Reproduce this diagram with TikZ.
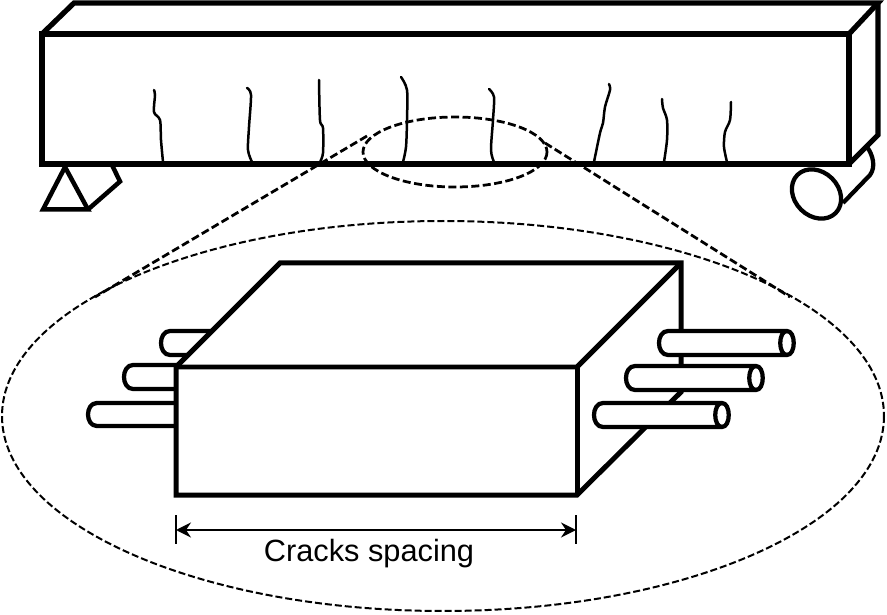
\documentclass[tikz,border=0pt]{standalone}
\usepackage{fontspec}
\setmainfont{Liberation Sans}
\usetikzlibrary{arrows.meta}

\tikzset{
	beamline/.style={line width=0.105cm, line join=miter},
	blockline/.style={line width=0.1cm, line join=miter},
	supportline/.style={line width=0.09cm, line join=miter},
	rodline/.style={line width=0.085cm, fill=white, line join=round},
	crackline/.style={line width=0.05cm, line cap=round},
	zoomline/.style={line width=0.055cm, dash pattern=on 0.16cm off 0.07cm},
	outerline/.style={line width=0.04cm, dash pattern=on 0.14cm off 0.06cm},
	spanline/.style={line width=0.042cm},
	spantip/.tip={Stealth[length=0.3cm,width=0.3cm,inset=0.1cm]}
}

\begin{document}
\begin{tikzpicture}[x=0.02cm, y=-0.02cm]
	\useasboundingbox (0,0) rectangle (887,615);

	% roller and support under the beam
	\begin{scope}
		\draw[rodline] (843,203) -- (870,175) .. controls (876,167) and (873,155) .. (867,147);
		\draw[rodline] (816.5,194) circle [x radius=27, y radius=22, rotate=-45];
		\draw[supportline] (65,167) -- (43,209.5) -- (88,209.5) -- cycle;
		\draw[supportline] (88,209.5) -- (120,181.5) -- (112,165);
	\end{scope}

	% beam
	\begin{scope}
		\draw[beamline, fill=white] (42,34) rectangle (849,164);
		\draw[beamline] (42,34) -- (74,3) -- (878,3) -- (849,34);
		\draw[beamline] (878,3) -- (878,135) -- (849,164);
	\end{scope}

	% cracks
	\begin{scope}
		\draw[crackline] plot[smooth] coordinates {(154,90) (155,95) (154,112) (160,120) (161,140) (163,162)};
		\draw[crackline] plot[smooth] coordinates {(247,88) (251,95) (249,127) (248,150) (252,162)};
		\draw[crackline] plot[smooth] coordinates {(319,80) (320,120) (323,128) (323,153) (320,162)};
		\draw[crackline] plot[smooth] coordinates {(401,77) (407,90) (407,120) (406,147) (403,162)};
		\draw[crackline] plot[smooth] coordinates {(489,89) (494,97) (493,120) (491,150) (494,162)};
		\draw[crackline] plot[smooth] coordinates {(609,84) (610,90) (605,107) (603,123) (600,133) (594,162)};
		\draw[crackline] plot[smooth] coordinates {(662,99) (663,108) (667,120) (667,140) (664,162)};
		\draw[crackline] plot[smooth] coordinates {(731,102) (730,120) (725,132) (724,147) (727,162)};
	\end{scope}

	% zoom outline
	\begin{scope}
		\draw[zoomline] (455,152) circle [x radius=92, y radius=35];
		\draw[outerline] (443,416) circle [x radius=441, y radius=195];
		\draw[zoomline] (367,136) -- (95,297);
		\draw[zoomline] (545,143) -- (790,297);
	\end{scope}

	% bars behind the block
	\begin{scope}
		\draw[rodline] (215,331) -- (170,331) .. controls (158,331) and (158,355) .. (170,355) -- (215,355);
		\draw[rodline] (180,365) -- (133,365) .. controls (121,365) and (121,389) .. (133,389) -- (180,389);
		\draw[rodline] (180,403) -- (97,403) .. controls (85,403) and (85,426) .. (97,426) -- (180,426);
	\end{scope}

	% block
	\begin{scope}
		\draw[blockline, fill=white] (176,367) -- (280,263) -- (681,263) -- (681,392) -- (577,495) -- (176,495) -- cycle;
		\draw[blockline] (176,367) -- (577,367) -- (681,263);
		\draw[blockline] (577,367) -- (577,495);
	\end{scope}

	% bars in front of the block
	\begin{scope}
		\draw[rodline] (668,331) -- (787,331) .. controls (796,331) and (796,355) .. (787,355) -- (668,355) .. controls (656,355) and (656,331) .. (668,331) -- cycle;
		\draw[rodline] (787,331) .. controls (778,331) and (778,355) .. (787,355);
		\draw[rodline] (635,366) -- (756,366) .. controls (765,366) and (765,390) .. (756,390) -- (635,390) .. controls (623,390) and (623,366) .. (635,366) -- cycle;
		\draw[rodline] (756,366) .. controls (747,366) and (747,390) .. (756,390);
		\draw[rodline] (603,403) -- (722,403) .. controls (731,403) and (731,427) .. (722,427) -- (603,427) .. controls (591,427) and (591,403) .. (603,403) -- cycle;
		\draw[rodline] (722,403) .. controls (713,403) and (713,427) .. (722,427);
	\end{scope}

	% spacing
	\coordinate (spanL) at (176,530);
	\coordinate (spanR) at (576,530);
	\draw[spanline] (176,515) -- (176,544);
	\draw[spanline] (576,515) -- (576,544);
	\draw[spanline, spantip-spantip] (spanL) -- (spanR);
	\node[inner sep=0pt] (spacinglabel) at (369,554) {\fontsize{17.5}{20}\selectfont Cracks spacing};
\end{tikzpicture}
\end{document}
